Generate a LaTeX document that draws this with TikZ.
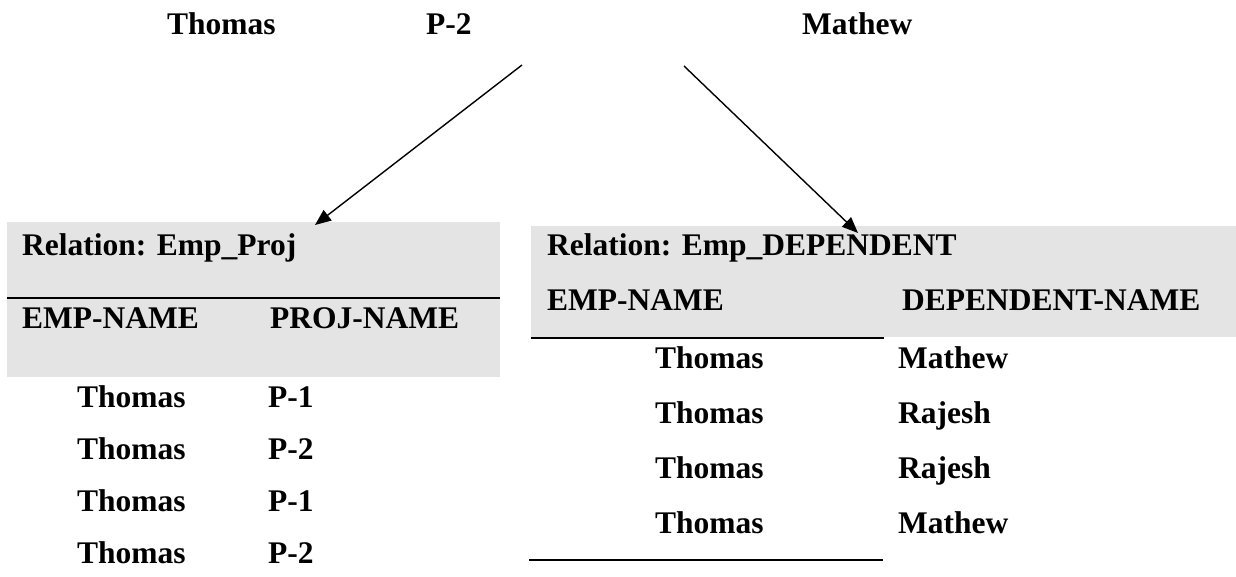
\documentclass[tikz,border=0pt]{standalone}
\usepackage{fontspec}
\setmainfont{Liberation Serif}
\usetikzlibrary{arrows.meta}
\definecolor{relgray}{RGB}{228,228,228}
\begin{document}
\begin{tikzpicture}[x=1pt,y=-1pt,
  lbl/.style={anchor=base west,inner sep=0pt,font=\fontsize{31.5}{36}\selectfont\bfseries},
  rule/.style={line width=2pt},
  link/.style={line width=1.4pt,-{Triangle[length=16pt,width=13pt]}}]
\useasboundingbox (0,0) rectangle (1236,577);

% shaded headers of the two relations
\fill[relgray] (7,222) rectangle (500,377);
\fill[relgray] (531,226) rectangle (1236,337);

% rules
\draw[rule] (7,297.5) -- (500,297.5);
\draw[rule] (531,337.5) -- (884,337.5);
\draw[rule] (529,560) -- (883,560);

% tuple being decomposed
\node[lbl] (tEmp)  at (167,35) {Thomas};
\node[lbl] (tProj) at (426,35) {P-2};
\node[lbl] (tDep)  at (802,35) {Mathew};

% Emp_Proj relation
\node[lbl] (pTitle) at (22,256) {Relation: Emp\_Proj};
\node[lbl] (pH1) at (22,328) {EMP-NAME};
\node[lbl] (pH2) at (270,328) {PROJ-NAME};
\node[lbl] (pE1) at (77,407) {Thomas};  \node[lbl] (pP1) at (268,407) {P-1};
\node[lbl] (pE2) at (77,459) {Thomas};  \node[lbl] (pP2) at (268,459) {P-2};
\node[lbl] (pE3) at (77,511) {Thomas};  \node[lbl] (pP3) at (268,511) {P-1};
\node[lbl] (pE4) at (77,563) {Thomas};  \node[lbl] (pP4) at (268,563) {P-2};

% Emp_DEPENDENT relation
\node[lbl] (dTitle) at (547,255) {Relation: Emp\_DEPENDENT};
\node[lbl] (dH1) at (547,310) {EMP-NAME};
\node[lbl] (dH2) at (902,310) {DEPENDENT-NAME};
\node[lbl] (dE1) at (655,368) {Thomas};  \node[lbl] (dD1) at (898,368) {Mathew};
\node[lbl] (dE2) at (655,423) {Thomas};  \node[lbl] (dD2) at (898,423) {Rajesh};
\node[lbl] (dE3) at (655,478) {Thomas};  \node[lbl] (dD3) at (898,478) {Rajesh};
\node[lbl] (dE4) at (655,533) {Thomas};  \node[lbl] (dD4) at (898,533) {Mathew};

% projection arrows
\coordinate (fromL) at (522,65);
\coordinate (toL)   at (315,225);
\coordinate (fromR) at (684,66);
\coordinate (toR)   at (858,233);
\draw[link] (fromL) -- (toL);
\draw[link] (fromR) -- (toR);
\end{tikzpicture}
\end{document}
